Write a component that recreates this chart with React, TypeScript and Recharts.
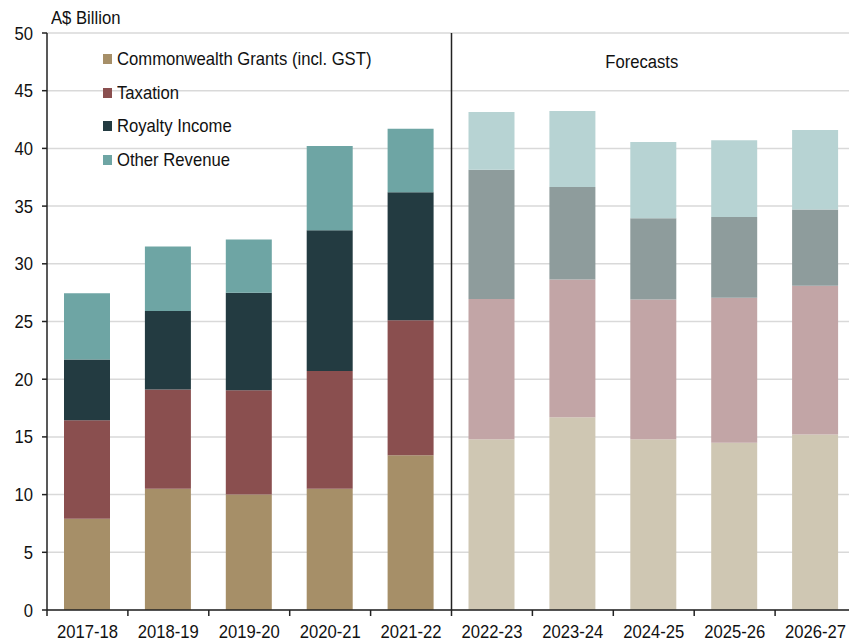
import {
  BarChart,
  Bar,
  Cell,
  XAxis,
  YAxis,
  CartesianGrid,
  ReferenceLine,
  ReferenceArea,
} from "recharts";

const categories = [
  "2017-18",
  "2018-19",
  "2019-20",
  "2020-21",
  "2021-22",
  "2022-23",
  "2023-24",
  "2024-25",
  "2025-26",
  "2026-27",
];
const firstForecast = "2022-23";

const grants = [7.9, 10.5, 10.0, 10.5, 13.4, 14.8, 16.7, 14.8, 14.5, 15.2];
const taxation = [8.55, 8.6, 9.05, 10.2, 11.7, 12.15, 11.95, 12.1, 12.55, 12.9];
const royalty = [5.25, 6.8, 8.45, 12.2, 11.1, 11.2, 8.0, 7.05, 7.0, 6.6];
const other = [5.75, 5.6, 4.6, 7.3, 5.5, 5.0, 6.6, 6.6, 6.65, 6.9];

const yTicks = [0, 5, 10, 15, 20, 25, 30, 35, 40, 45, 50];

const series = [
  { key: "grants", name: "Commonwealth Grants (incl. GST)", color: "#A68F68", light: "#CFC7B3" },
  { key: "taxation", name: "Taxation", color: "#8A4F4F", light: "#C2A5A6" },
  { key: "royalty", name: "Royalty Income", color: "#233B41", light: "#8E9C9C" },
  { key: "other", name: "Other Revenue", color: "#6EA5A4", light: "#B7D3D3" },
];

const data = categories.map((cat, i) => ({
  cat,
  grants: grants[i],
  taxation: taxation[i],
  royalty: royalty[i],
  other: other[i],
}));

const forecastIdx = categories.indexOf(firstForecast);

// narrow fonts aren't installed, so squeeze Liberation Sans a little
const FONT = "'Liberation Sans', Arial, sans-serif";
const FS = 18.5;
const SQUEEZE = 0.9;
const W = 860;
const H = 644;
const MARGIN = { top: 33, right: 4, left: 0, bottom: 0 };
const Y_W = 47;
const BAND = (W - MARGIN.left - MARGIN.right - Y_W) / categories.length;
const TICK_GAP = 15;

function Squeezed({ x, y, anchor, dy, children }: any) {
  return (
    <text
      transform={`translate(${x},${y}) scale(${SQUEEZE},1)`}
      dy={dy}
      textAnchor={anchor}
      fontSize={FS}
      fill="#111"
      fontFamily={FONT}
    >
      {children}
    </text>
  );
}

function CatTick(props: any) {
  const { x, y, payload, index } = props;
  const axisY = y - TICK_GAP;
  return (
    <g>
      <line x1={x - BAND / 2} x2={x - BAND / 2} y1={axisY} y2={axisY + 6} stroke="#222" strokeWidth={1.5} />
      {index === categories.length - 1 && (
        <line x1={x + BAND / 2} x2={x + BAND / 2} y1={axisY} y2={axisY + 6} stroke="#222" strokeWidth={1.5} />
      )}
      <Squeezed x={x} y={y} anchor="middle" dy="0.71em">
        {payload.value}
      </Squeezed>
    </g>
  );
}

function ValTick(props: any) {
  const { x, y, payload } = props;
  return (
    <Squeezed x={x} y={y} anchor="end" dy="0.355em">
      {payload.value}
    </Squeezed>
  );
}

function ForecastLabel(props: any) {
  const vb = props.viewBox || {};
  return (
    <Squeezed x={vb.x + vb.width / 2 - 12} y={vb.y + 22} anchor="middle" dy="0.71em">
      Forecasts
    </Squeezed>
  );
}

export default function App() {
  return (
    <div
      style={{
        position: "fixed",
        left: 0,
        top: 0,
        width: 849,
        height: 644,
        overflow: "hidden",
        background: "#fff",
        fontFamily: FONT,
      }}
    >
      <div
        style={{
          position: "absolute",
          left: 51,
          top: 8,
          fontSize: FS,
          lineHeight: "20px",
          color: "#111",
          transform: `scaleX(${SQUEEZE})`,
          transformOrigin: "left center",
        }}
      >
        A$ Billion
      </div>
      <BarChart width={W} height={H} data={data} margin={MARGIN}>
        <CartesianGrid vertical={false} stroke="#D9D9D9" strokeWidth={1.5} />
        <XAxis
          dataKey="cat"
          height={34}
          axisLine={{ stroke: "#222", strokeWidth: 1.5 }}
          tickLine={false}
          tickSize={0}
          tickMargin={TICK_GAP}
          tick={<CatTick />}
          interval={0}
        />
        <YAxis
          width={Y_W}
          domain={[0, 50]}
          ticks={yTicks}
          interval={0}
          axisLine={{ stroke: "#222", strokeWidth: 1.5 }}
          tickLine={{ stroke: "#222", strokeWidth: 1.5 }}
          tickSize={5}
          tickMargin={9}
          tick={<ValTick />}
        />
        <ReferenceArea
          x1={firstForecast}
          x2={categories[categories.length - 1]}
          fill="none"
          fillOpacity={0}
          stroke="none"
          label={<ForecastLabel />}
        />
        {series.map((s) => (
          <Bar
            key={s.key}
            dataKey={s.key}
            name={s.name}
            stackId="a"
            fill={s.color}
            barSize={46}
            isAnimationActive={false}
          >
            {data.map((d, i) => (
              <Cell key={d.cat} fill={i >= forecastIdx ? s.light : s.color} />
            ))}
          </Bar>
        ))}
        <ReferenceLine x={firstForecast} position="start" stroke="#222" strokeWidth={1.5} />
      </BarChart>
      <div style={{ position: "absolute", left: 103, top: 42, color: "#111", fontSize: FS }}>
        {series.map((s) => (
          <div key={s.key} style={{ display: "flex", alignItems: "center", height: 33.7 }}>
            <span style={{ width: 9, height: 10, background: s.color, marginRight: 5, display: "inline-block" }} />
            <span style={{ transform: `scaleX(${SQUEEZE})`, transformOrigin: "left center", whiteSpace: "nowrap" }}>
              {s.name}
            </span>
          </div>
        ))}
      </div>
    </div>
  );
}
